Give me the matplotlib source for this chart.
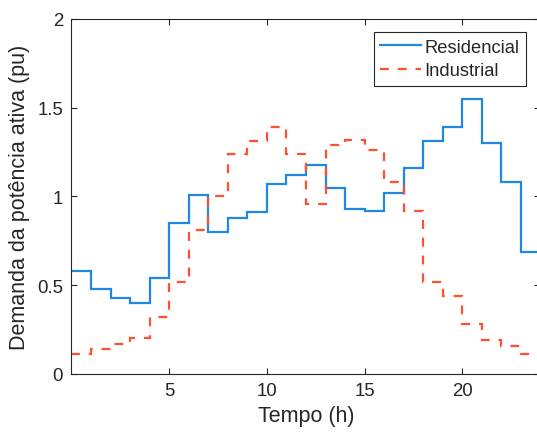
import numpy as np
import matplotlib
matplotlib.use('Agg')
import matplotlib.pyplot as plt

plt.rcParams['font.family'] = ['Liberation Sans', 'DejaVu Sans']

# Demanda horária (pu), degraus de 1 h de 0 a 24 h
hours = np.arange(0, 25)
residencial = [0.58, 0.48, 0.43, 0.40, 0.54, 0.85, 1.01, 0.80, 0.88, 0.91,
               1.07, 1.12, 1.18, 1.05, 0.93, 0.92, 1.02, 1.16, 1.31, 1.39,
               1.55, 1.30, 1.08, 0.69]
industrial = [0.11, 0.14, 0.17, 0.20, 0.32, 0.52, 0.81, 1.00, 1.24, 1.31,
              1.39, 1.24, 0.96, 1.29, 1.32, 1.26, 1.08, 0.92, 0.52, 0.44,
              0.28, 0.19, 0.16, 0.11]
x_ticks = [5, 10, 15, 20]
y_ticks = [0, 0.5, 1, 1.5, 2]
y_tick_labels = ['0', '0.5', '1', '1.5', '2']

txt = '#262626'

fig = plt.figure(figsize=(5.37, 4.39), dpi=100)
ax = fig.add_axes([0.1331, 0.1458, 0.8734, 0.8087])

ax.stairs(residencial, hours, color='#1E88E5', linewidth=1.6,
          label='Residencial', baseline=None)
ax.stairs(industrial, hours, color='#FF5030', linewidth=1.6,
          linestyle=(0, (4, 4)), label='Industrial', baseline=None)

ax.set_xlim(0, 24)
ax.set_ylim(0, 2)
ax.set_xticks(x_ticks)
ax.set_yticks(y_ticks)
ax.set_yticklabels(y_tick_labels)
ax.tick_params(direction='in', length=4, width=0.8, colors=txt,
               labelsize=13.4, top=True, right=True, pad=6)
for s in ax.spines.values():
    s.set_color(txt)
    s.set_linewidth(0.8)

ax.set_xlabel('Tempo (h)', fontsize=15.5, color=txt, labelpad=4)
ax.set_ylabel('Demanda da potência ativa (pu)', fontsize=15.5, color=txt,
              labelpad=5)

leg = ax.legend(loc='upper right', bbox_to_anchor=(525.7 / 537, 1 - 33.3 / 439),
                bbox_transform=fig.transFigure, borderaxespad=0,
                fontsize=13.2, handlelength=2.2, handletextpad=0.2,
                labelspacing=0.35, borderpad=0.35, fancybox=False,
                framealpha=1, edgecolor=txt)
leg.get_frame().set_linewidth(0.8)
for t in leg.get_texts():
    t.set_color(txt)

fig.savefig('out.png', dpi=100)
